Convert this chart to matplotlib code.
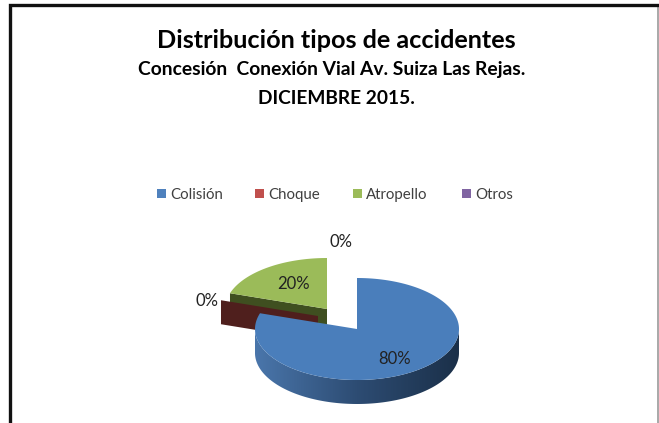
import numpy as np
import matplotlib
matplotlib.use("Agg")
import matplotlib.pyplot as plt
from matplotlib.patches import Polygon, Rectangle
from matplotlib.colors import LinearSegmentedColormap

plt.rcParams['font.family'] = ['Lato', 'DejaVu Sans']

CATEGORIES = ["Colisión", "Choque", "Atropello", "Otros"]
SHARES = [80, 0, 20, 0]
LABELS = ["80%", "0%", "20%", "0%"]
COLORS = ["#4a7ebb", "#c0504d", "#9bbb59", "#8064a2"]
LEGEND_COLORS = ["#4f81bd", "#c0504d", "#9bbb59", "#8064a2"]

RX = 102
RY = 51
DEPTH = 24
CENTERS = [(357, 329), (318, 316), (327, 309), (327, 309)]
LABEL_POS = [(395, 359), (207, 301), (293, 284), (341, 242)]
LEGEND_X = [157, 255, 353, 462]
LEGEND_Y = 194

WALL_CMAP = LinearSegmentedColormap.from_list("wall", ["#4a76ab", "#2d4c73", "#1b3049"])


def rim(cx, cy, a0, a1, n=120):
    # angles in degrees, clockwise from 12 o'clock
    t = np.radians(np.linspace(a0, a1, n))
    return np.column_stack([cx + RX * np.sin(t), cy - RY * np.cos(t)])


def draw_blue(ax, center, a0, a1):
    cx, cy = center
    # outer wall, only the part that faces the viewer
    pts = rim(cx, cy, max(a0, 90), min(a1, 270), 180)
    wall = Polygon(np.vstack([pts, pts[::-1] + [0, DEPTH]]), fc="none", ec="none",
                   transform=ax.transData)
    ax.add_patch(wall)
    grad = np.linspace(0, 1, 256).reshape(1, -1)
    im = ax.imshow(grad, cmap=WALL_CMAP, extent=(cx - RX, cx + RX, cy + RY + DEPTH, cy),
                   aspect="auto", zorder=4, interpolation="bilinear")
    im.set_clip_path(wall)
    top = np.vstack([[cx, cy], rim(cx, cy, a0, a1, 240)])
    ax.add_patch(Polygon(top, fc=COLORS[0], ec="none", zorder=5))


def draw_green(ax, center, a0, a1):
    cx, cy = center
    p = rim(cx, cy, a0, a0, 1)[0]
    side = [p, [cx, cy], [cx, cy + DEPTH], p + [0, DEPTH]]
    ax.add_patch(Polygon(side, fc="#3f4f20", ec="none", zorder=2))
    top = np.vstack([[cx, cy], rim(cx, cy, a0, a1)])
    ax.add_patch(Polygon(top, fc=COLORS[2], ec="none", zorder=2.5))


def draw_flat(ax, center, a0):
    # a 0% slice only shows up as its cut face
    cx, cy = center
    p = rim(cx, cy, a0, a0, 1)[0]
    face = [p, [cx, cy], [cx, cy + DEPTH], p + [0, DEPTH]]
    ax.add_patch(Polygon(face, fc="#4f1f1d", ec="none", zorder=3))


def main():
    fig = plt.figure(figsize=(6.59, 4.23), dpi=100)
    ax = fig.add_axes([0, 0, 1, 1])

    angle = 0
    for i, share in enumerate(SHARES):
        a1 = angle + share * 3.6
        if i == 0:
            draw_blue(ax, CENTERS[i], angle, a1)
        elif share == 0:
            if i == 1:
                draw_flat(ax, CENTERS[i], angle)
        else:
            draw_green(ax, CENTERS[i], angle, a1)
        ax.text(LABEL_POS[i][0], LABEL_POS[i][1], LABELS[i], ha="center", va="center",
                fontsize=12, color="#222222", zorder=8)
        angle = a1

    ax.set_xlim(0, 659)
    ax.set_ylim(423, 0)
    ax.axis("off")

    ax.plot([658, 658], [5, 423], color="#999999", lw=1.2)
    ax.plot([10, 10, 659], [423, 5, 5], color="#111111", lw=2.4, solid_joinstyle="miter")

    ax.text(336, 40, "Distribución tipos de accidentes", ha="center", va="center",
            fontsize=18.2, fontweight="bold", color="black")
    ax.text(332, 69, "Concesión  Conexión Vial Av. Suiza Las Rejas.", ha="center", va="center",
            fontsize=13.9, fontweight="bold", color="black")
    ax.text(336, 98, "DICIEMBRE 2015.", ha="center", va="center",
            fontsize=13.8, fontweight="bold", color="black")

    for name, col, x in zip(CATEGORIES, LEGEND_COLORS, LEGEND_X):
        ax.add_patch(Rectangle((x, LEGEND_Y - 4.5), 9, 9, fc=col, ec="none"))
        ax.text(x + 13, LEGEND_Y + 1, name, ha="left", va="center", fontsize=10.8, color="#404040")

    fig.savefig("out.png", dpi=100)


if __name__ == "__main__":
    main()
